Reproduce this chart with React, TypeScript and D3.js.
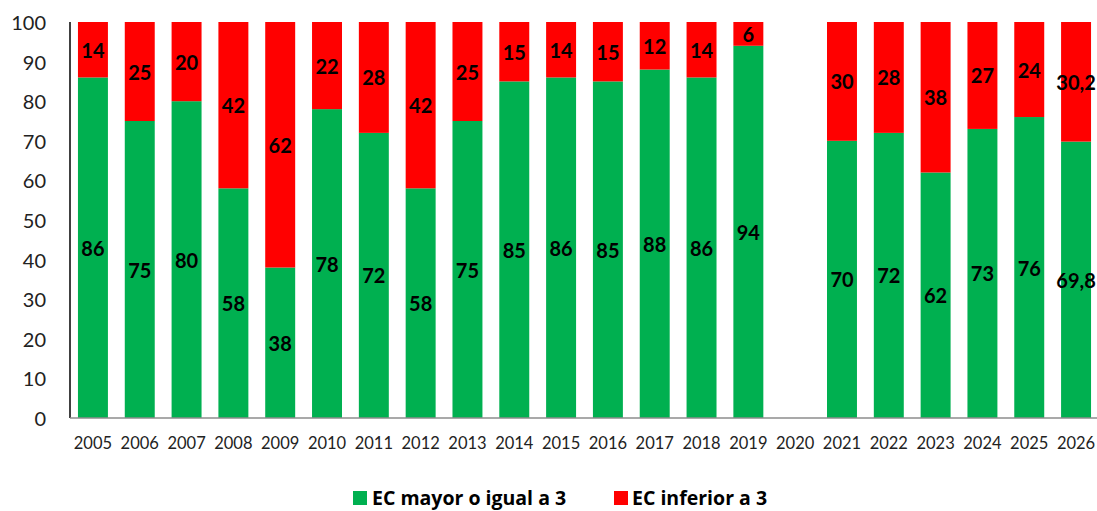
import React from "react";
import { scaleBand, scaleLinear, range } from "d3";

const years = [
  "2005", "2006", "2007", "2008", "2009", "2010", "2011", "2012", "2013", "2014", "2015",
  "2016", "2017", "2018", "2019", "2020", "2021", "2022", "2023", "2024", "2025", "2026",
];
// EC mayor o igual a 3
const mayor: (number | null)[] = [
  86, 75, 80, 58, 38, 78, 72, 58, 75, 85, 86, 85, 88, 86, 94, null, 70, 72, 62, 73, 76, 69.8,
];
// EC inferior a 3
const inferior: (number | null)[] = [
  14, 25, 20, 42, 62, 22, 28, 42, 25, 15, 14, 15, 12, 14, 6, null, 30, 28, 38, 27, 24, 30.2,
];
const yTicks = range(0, 101, 10);

const GREEN = "#00B050";
const RED = "#FF0000";
const FONT = "Lato, 'Open Sans', sans-serif";

const fmt = (v: number) => String(v).replace(".", ",");

const App = () => {
  const width = 1097;
  const height = 511;
  const margin = { left: 70, right: -2, top: 22, bottom: 93 };

  const x = scaleBand()
    .domain(years)
    .range([margin.left, width - margin.right])
    .paddingInner(0.36)
    .paddingOuter(0.17);

  const y = scaleLinear()
    .domain([0, 100])
    .range([height - margin.bottom, margin.top]);

  return (
    <svg
      width={width}
      height={height}
      style={{ position: "absolute", left: 0, top: 0, background: "#fff" }}
      fontFamily={FONT}
    >
      {/* bars */}
      {years.map((yr, i) => {
        const g = mayor[i];
        const r = inferior[i];
        if (g == null || r == null) return null;
        const bx = x(yr)!;
        const bw = x.bandwidth();
        return (
          <g key={yr}>
            <rect x={bx} y={y(g)} width={bw} height={y(0) - y(g)} fill={GREEN} />
            <rect x={bx} y={y(g + r)} width={bw} height={y(g) - y(g + r)} fill={RED} />
            <text
              x={bx + bw / 2}
              y={y(g / 2)}
              textAnchor="middle"
              dominantBaseline="central"
              fontSize={20}
              fontWeight="bold"
              fill="#000"
            >
              {fmt(g)}
            </text>
            <text
              x={bx + bw / 2}
              y={y(g + r / 2)}
              textAnchor="middle"
              dominantBaseline="central"
              fontSize={20}
              fontWeight="bold"
              fill="#000"
            >
              {fmt(r)}
            </text>
          </g>
        );
      })}

      {/* y axis */}
      <line x1={margin.left} x2={margin.left} y1={y(100)} y2={y(0)} stroke="#000" strokeWidth={1.5} />
      {yTicks.map((t) => (
        <text
          key={t}
          x={46}
          y={y(t)}
          textAnchor="end"
          dominantBaseline="central"
          fontSize={20}
          fill="#222"
        >
          {t}
        </text>
      ))}

      {/* x axis */}
      <line x1={margin.left} x2={width} y1={y(0)} y2={y(0)} stroke="#8c8c8c" strokeWidth={1.5} />
      {years.map((yr) => (
        <text
          key={yr}
          x={x(yr)! + x.bandwidth() / 2}
          y={443}
          textAnchor="middle"
          dominantBaseline="central"
          fontSize={16.5}
          fill="#222"
        >
          {yr}
        </text>
      ))}

      {/* legend */}
      <g fontSize={19.5} fontWeight="bold" fill="#000" fontFamily="'Open Sans', sans-serif">
        <rect x={353} y={491} width={14} height={14} fill={GREEN} />
        <text x={372} y={505}>EC mayor o igual a 3</text>
        <rect x={614} y={491} width={14} height={14} fill={RED} />
        <text x={632} y={505}>EC inferior a 3</text>
      </g>
    </svg>
  );
};

export default App;
